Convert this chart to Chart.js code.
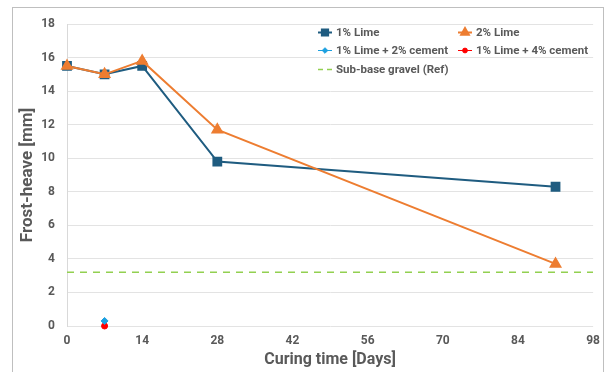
<!DOCTYPE html>
<html><head><meta charset="utf-8">
<script src="https://cdn.jsdelivr.net/npm/chart.js@4/dist/chart.umd.min.js"></script>
<style>html,body{margin:0;padding:0;background:#fff}#wrap{width:608px;height:372px;position:relative}</style>
</head><body><div id="wrap"><canvas id="c" width="608" height="372"></canvas></div>
<script>
const days1 = [0, 7, 14, 28, 91];
const lime1 = [15.5, 15.0, 15.5, 9.8, 8.3];
const days2 = [0, 7, 14, 28, 91];
const lime2 = [15.5, 15.0, 15.8, 11.7, 3.7];
const cem2Day = [7];
const cem2 = [0.3];
const cem4Day = [7];
const cem4 = [0.0];
const refDays = [0, 98];
const refVal = [3.2, 3.2];
const xTicks = [0, 14, 28, 42, 56, 70, 84, 98];
const yTicks = [0, 2, 4, 6, 8, 10, 12, 14, 16, 18];

const pts = (xs, ys) => xs.map((x, i) => ({x, y: ys[i]}));
const FONT = "Roboto, 'Liberation Sans', sans-serif";
const GRAY = '#595959';

const datasets = [
  {label:'1% Lime', data:pts(days1,lime1), borderColor:'#1F5C80', backgroundColor:'#1F5C80', borderWidth:2, pointStyle:'rect', pointRadius:5.5, showLine:true, lm:'rect', order:2, clip:false},
  {label:'2% Lime', data:pts(days2,lime2), borderColor:'#ED7D31', backgroundColor:'#ED7D31', borderWidth:2, pointStyle:'triangle', pointRadius:5.5, showLine:true, lm:'triangle', order:1, clip:false},
  {label:'1% Lime + 2% cement', data:pts(cem2Day,cem2), borderColor:'#1CA0E0', backgroundColor:'#1CA0E0', borderWidth:1, pointStyle:'rectRot', pointRadius:3.5, showLine:true, lm:'rectRot', order:0, clip:false},
  {label:'1% Lime + 4% cement', data:pts(cem4Day,cem4), borderColor:'#FF0000', backgroundColor:'#FF0000', borderWidth:1, pointStyle:'circle', pointRadius:3, showLine:true, lm:'circle', order:0, clip:false},
  {label:'Sub-base gravel (Ref)', data:pts(refDays,refVal), borderColor:'#92D050', backgroundColor:'#92D050', borderWidth:1.5, borderDash:[7,6], pointRadius:0, showLine:true, lm:'none', order:3}
];

const frame = {
  id:'frame',
  afterDraw(chart){
    const ctx = chart.ctx;
    ctx.save();
    ctx.strokeStyle = '#bfbfbf'; ctx.lineWidth = 1;
    ctx.strokeRect(12.5, 7.5, 591, 380);
    const items = [
      [0, 318, 32], [1, 458, 32], [2, 318, 50], [3, 458, 50], [4, 318, 69]
    ];
    ctx.font = "bold 11.5px " + FONT;
    ctx.textBaseline = 'middle';
    items.forEach(([i, x, y]) => {
      const ds = chart.data.datasets[i];
      ctx.strokeStyle = ds.borderColor; ctx.fillStyle = ds.backgroundColor;
      ctx.lineWidth = ds.borderWidth;
      ctx.setLineDash(ds.borderDash ? [5,4] : []);
      ctx.beginPath(); ctx.moveTo(x, y + 0.5); ctx.lineTo(x + 14, y + 0.5); ctx.stroke();
      ctx.setLineDash([]);
      if (ds.lm !== 'none') {
        Chart.helpers.drawPoint(ctx, {pointStyle: ds.lm, radius: ds.pointRadius * 0.8, rotation: 0, borderWidth: 1}, x + 7, y + 0.5);
      }
      ctx.fillStyle = GRAY;
      ctx.fillText(ds.label, x + 18, y + 1);
    });
    ctx.restore();
  }
};

new Chart(document.getElementById('c'), {
  type:'scatter',
  data:{datasets},
  plugins:[frame],
  options:{
    responsive:false, animation:false, devicePixelRatio:1,
    layout:{padding:{left:18, right:11, top:24, bottom:0}},
    plugins:{legend:{display:false}, tooltip:{enabled:false}},
    scales:{
      x:{type:'linear', min:0, max:98,
        afterBuildTicks(s){ s.ticks = xTicks.map(v => ({value:v})); },
        afterFit(s){ s.height = 46; },
        grid:{display:false, drawTicks:false},
        border:{display:false},
        ticks:{color:GRAY, font:{family:FONT, weight:'bold', size:12}, padding:8, maxRotation:0},
        title:{display:true, text:'Curing time [Days]', color:GRAY, font:{family:FONT, weight:'bold', size:16}, padding:{top:0,bottom:2}}
      },
      y:{min:0, max:18,
        afterBuildTicks(s){ s.ticks = yTicks.map(v => ({value:v})); },
        afterFit(s){ s.width = 49; },
        grid:{color:'#e3e3e3', drawTicks:false, lineWidth:1},
        border:{display:true, color:'#d9d9d9'},
        ticks:{color:GRAY, font:{family:FONT, weight:'bold', size:12}, padding:12},
        title:{display:true, text:'Frost-heave [mm]', color:GRAY, font:{family:FONT, weight:'bold', size:17}, padding:{top:0,bottom:0}}
      }
    }
  }
});
</script></body></html>
